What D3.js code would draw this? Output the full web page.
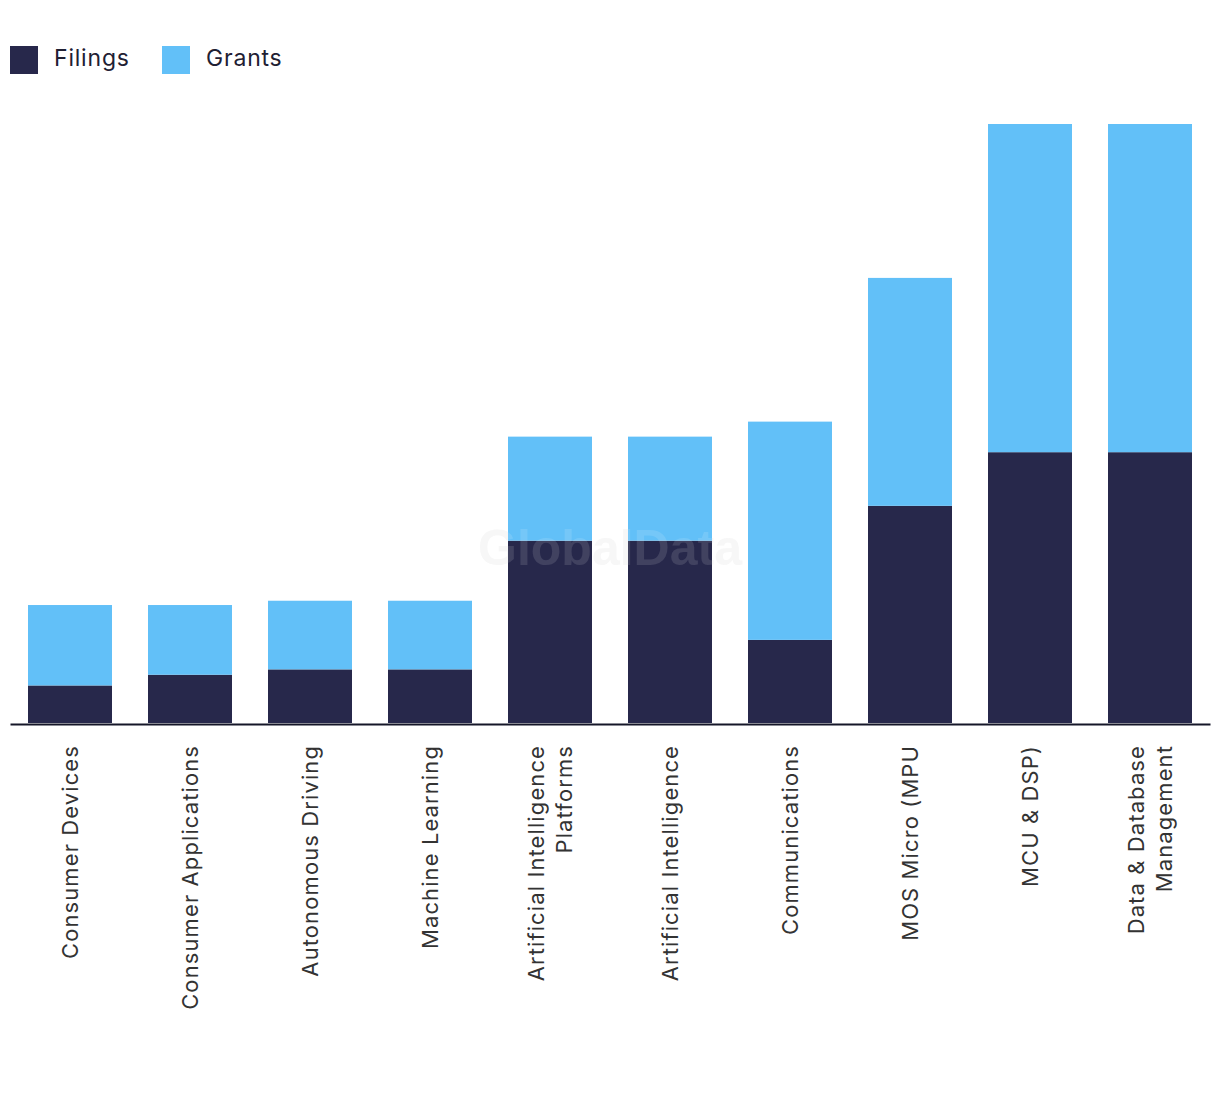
<!DOCTYPE html>
<html><head><meta charset="utf-8">
<script src="https://cdn.jsdelivr.net/npm/d3@7"></script>
<style>body{margin:0;background:#fff;} svg{display:block;}</style>
</head><body>
<svg id="chart" width="1220" height="1094"></svg>
<script>
const categories = [
  ["Consumer Devices"],
  ["Consumer Applications"],
  ["Autonomous Driving"],
  ["Machine Learning"],
  ["Artificial Intelligence", "Platforms"],
  ["Artificial Intelligence"],
  ["Communications"],
  ["MOS Micro (MPU"],
  ["MCU & DSP)"],
  ["Data & Database", "Management"]
];
const filings = [7, 9, 10, 10, 34, 34, 15.5, 40.5, 50.5, 50.5];
const grants  = [15, 13, 12.8, 12.8, 19.4, 19.4, 40.7, 42.5, 61.2, 61.2];
const seriesNames = ["Filings", "Grants"];
const colors = ["#27284b", "#62c0f8"];

(function () {
const svg = d3.select("#chart");
const FONT = "Inter, Roboto, sans-serif";
const plotLeft = 10, plotRight = 1210, plotBase = 723, plotTop = 124;
const keys = categories.map((c, i) => i);
const x = d3.scaleBand().domain(keys).range([plotLeft, plotRight]).paddingInner(0.3).paddingOuter(0.15);
const totals = filings.map((f, i) => f + grants[i]);
const y = d3.scaleLinear().domain([0, d3.max(totals)]).range([plotBase, plotTop]);

const rows = keys.map(i => ({i, Filings: filings[i], Grants: grants[i]}));
const stack = d3.stack().keys(seriesNames)(rows);

svg.append("text").attr("x", 610).attr("y", 565).attr("text-anchor", "middle")
  .attr("font-family", "Liberation Sans, Arial, sans-serif").attr("font-weight", "bold")
  .attr("font-size", 50).attr("fill", "#e6e6e6").attr("fill-opacity", 0.35).text("GlobalData");

svg.append("g").selectAll("g").data(stack).join("g")
  .attr("fill", (d, k) => colors[k])
  .selectAll("rect").data(d => d).join("rect")
  .attr("x", d => x(d.data.i)).attr("width", x.bandwidth())
  .attr("y", d => y(d[1])).attr("height", d => y(d[0]) - y(d[1]));

svg.append("text").attr("x", 610).attr("y", 565).attr("text-anchor", "middle")
  .attr("font-family", "Liberation Sans, Arial, sans-serif").attr("font-weight", "bold")
  .attr("font-size", 50).attr("fill", "#ffffff").attr("fill-opacity", 0.12).text("GlobalData");

const ax = svg.append("g").attr("transform", `translate(0,${plotBase + 1})`)
  .call(d3.axisBottom(x).tickSize(0).tickFormat(""));
ax.select(".domain").attr("stroke", "#151628").attr("stroke-width", 2);

const lab = svg.append("g");
keys.forEach(i => {
  const lines = categories[i];
  const cx = x(i) + x.bandwidth() / 2;
  const n = lines.length;
  const t = lab.append("text")
    .attr("transform", `translate(${cx},745) rotate(-90)`)
    .attr("text-anchor", "end")
    .attr("font-family", FONT)
    .attr("letter-spacing", "1.1px")
    .attr("font-size", 22).attr("fill", "#333");
  lines.forEach((ln, j) => {
    t.append("tspan").attr("x", 0).attr("y", (j - (n - 1) / 2) * 28 + 8).text(ln);
  });
});

const lg = svg.append("g");
const lx = [10, 162];
seriesNames.forEach((s, k) => {
  lg.append("rect").attr("x", lx[k]).attr("y", 46).attr("width", 28).attr("height", 28).attr("fill", colors[k]);
  lg.append("text").attr("x", lx[k] + 44).attr("y", 66).attr("font-family", FONT)
    .attr("letter-spacing", "0.8px")
    .attr("font-size", 23).attr("fill", "#1f2033").text(s);
});
})();
</script>
</body></html>
